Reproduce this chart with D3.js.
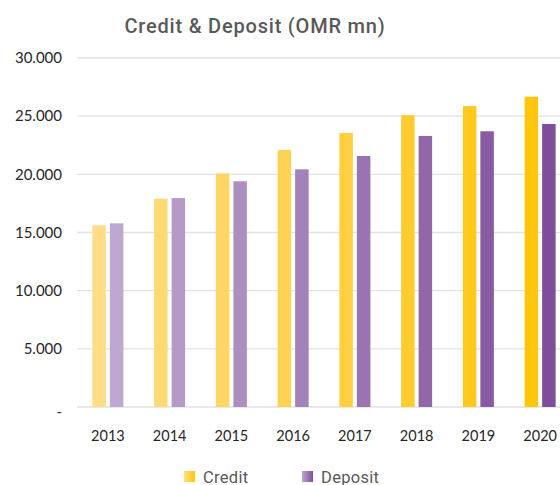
<!DOCTYPE html>
<html>
<head>
<meta charset="utf-8">
<script src="https://cdn.jsdelivr.net/npm/d3@7"></script>
<style>
  body { margin: 0; background: #fff; overflow: hidden; }
  svg { display: block; font-family: "Lato", "DejaVu Sans", sans-serif; }
</style>
</head>
<body>
<svg id="chart"></svg>
<script>
const width = 560;
const height = 485;

// Data (OMR mn)
const years = ["2013", "2014", "2015", "2016", "2017", "2018", "2019", "2020"];
const credit = [15620, 17900, 20080, 22090, 23550, 25080, 25870, 26670];
const deposit = [15790, 17960, 19400, 20430, 21580, 23300, 23700, 24330];
const yTicks = [0, 5000, 10000, 15000, 20000, 25000, 30000];
const seriesNames = ["Credit", "Deposit"];

const svg = d3.select("#chart")
  .attr("width", width)
  .attr("height", height);

// plot area runs past the right edge, like the original crop
const x = d3.scaleBand()
  .domain(years)
  .range([77, 571]);

const y = d3.scaleLinear()
  .domain([0, 30000])
  .range([407, 58]);

const barW = 13.5;
const barGap = 4;

// colour ramps per year (light -> strong)
const creditColor = d3.interpolateRgb("#ffdc86", "#ffc60b");
const depositColor = d3.interpolateRgb("#bea7d0", "#7f4e9a");
const t = i => i / (years.length - 1);

// Gridlines
svg.append("g")
  .selectAll("line")
  .data(yTicks)
  .join("line")
  .attr("x1", 77)
  .attr("x2", width)
  .attr("y1", d => y(d))
  .attr("y2", d => y(d))
  .attr("stroke", "#e2e2e2")
  .attr("stroke-width", 1.3);

// Y axis labels
const yAxis = d3.axisLeft(y)
  .tickValues(yTicks)
  .tickSize(0)
  .tickPadding(0)
  .tickFormat(d => d === 0 ? "-" : d3.format(",")(d).replace(/,/g, "."));

svg.append("g")
  .attr("transform", "translate(62,0)")
  .call(yAxis)
  .call(g => g.select(".domain").remove())
  .selectAll("text")
  .attr("fill", "#262626")
  .style("font-size", "15px")
  .style("font-family", "Lato, sans-serif")
  .attr("dy", d => d === 0 ? "0.6em" : "0.32em");

// Bars
const groups = svg.append("g")
  .selectAll("g")
  .data(years)
  .join("g")
  .attr("transform", d => `translate(${x(d) + x.bandwidth() / 2},0)`);

groups.append("rect")
  .attr("x", -barGap / 2 - barW)
  .attr("width", barW)
  .attr("y", (d, i) => y(credit[i]))
  .attr("height", (d, i) => y(0) - y(credit[i]))
  .attr("fill", (d, i) => creditColor(t(i)));

groups.append("rect")
  .attr("x", barGap / 2)
  .attr("width", barW)
  .attr("y", (d, i) => y(deposit[i]))
  .attr("height", (d, i) => y(0) - y(deposit[i]))
  .attr("fill", (d, i) => depositColor(t(i)));

// X axis labels
const xAxis = d3.axisBottom(x).tickSize(0).tickPadding(0);
svg.append("g")
  .attr("transform", "translate(0,431)")
  .call(xAxis)
  .call(g => g.select(".domain").remove())
  .selectAll("text")
  .attr("fill", "#262626")
  .style("font-size", "14.5px")
  .style("font-family", "Lato, sans-serif");

// Title
svg.append("text")
  .attr("x", 255)
  .attr("y", 33)
  .attr("text-anchor", "middle")
  .attr("fill", "#595959")
  .style("font-size", "20px")
  .style("font-weight", "500")
  .style("letter-spacing", "0.8px")
  .style("font-family", "Roboto, sans-serif")
  .text("Credit & Deposit (OMR mn)");

// Legend with gradient swatches
const defs = svg.append("defs");
const grads = [
  { id: "grad-credit", from: creditColor(0), to: creditColor(1) },
  { id: "grad-deposit", from: depositColor(0), to: depositColor(1) }
];
grads.forEach(g => {
  const lg = defs.append("linearGradient")
    .attr("id", g.id)
    .attr("x1", "0%").attr("x2", "100%")
    .attr("y1", "0%").attr("y2", "0%");
  lg.append("stop").attr("offset", "0%").attr("stop-color", g.from);
  lg.append("stop").attr("offset", "100%").attr("stop-color", g.to);
});

const legendX = [184, 302];
const legend = svg.append("g")
  .selectAll("g")
  .data(seriesNames)
  .join("g")
  .attr("transform", (d, i) => `translate(${legendX[i]},471)`);

legend.append("rect")
  .attr("width", 11)
  .attr("height", 11)
  .attr("fill", (d, i) => `url(#${grads[i].id})`);

legend.append("text")
  .attr("x", 19)
  .attr("y", 11.5)
  .attr("fill", "#595959")
  .style("font-size", "16.5px")
  .style("letter-spacing", "0.3px")
  .style("font-family", "Roboto, sans-serif")
  .text(d => d);
</script>
</body>
</html>
